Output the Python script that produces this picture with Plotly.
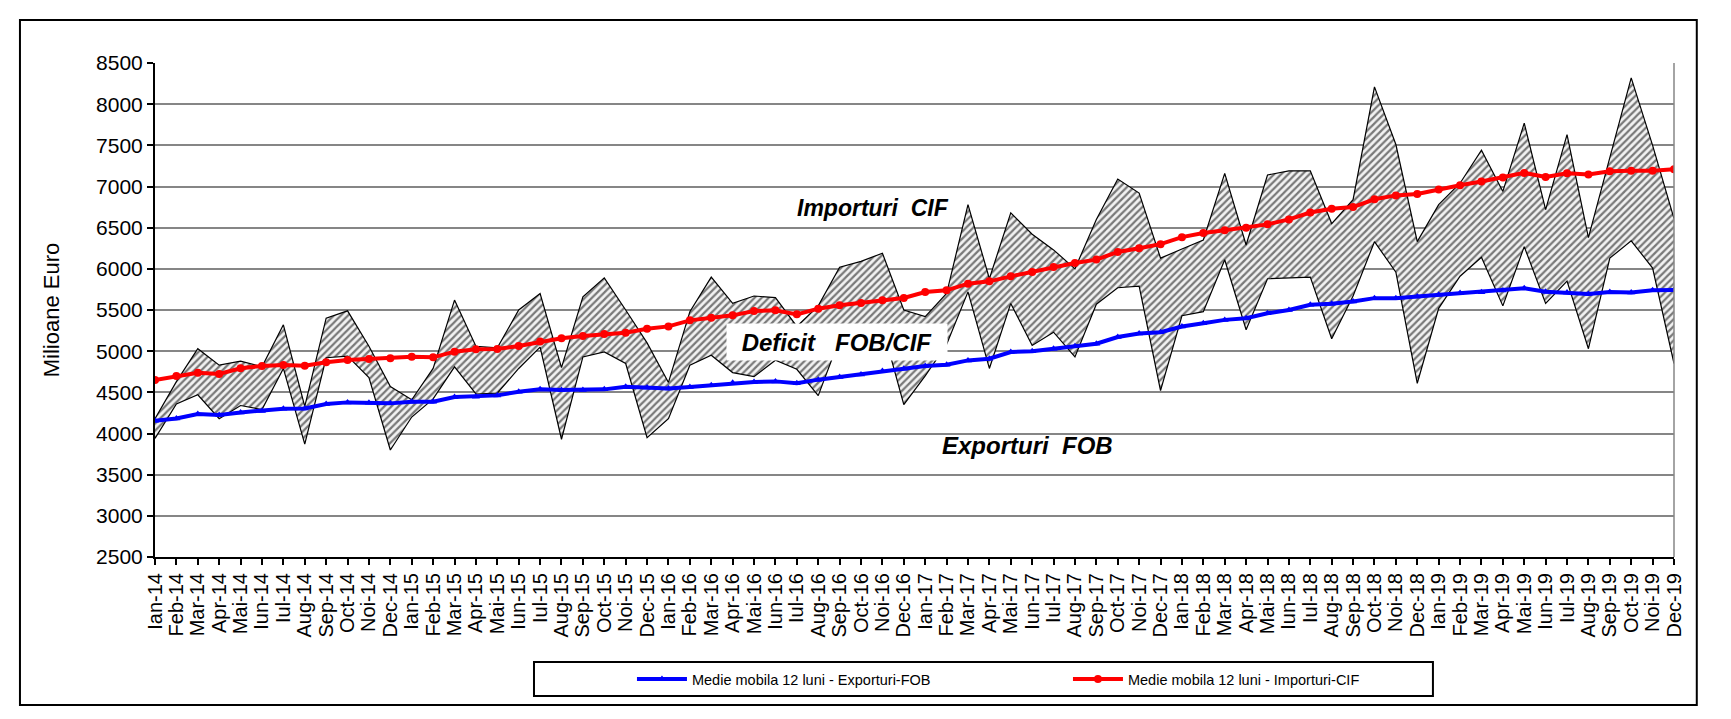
import plotly.graph_objects as go

# luni (etichete axa X)
month_names = ['Ian', 'Feb', 'Mar', 'Apr', 'Mai', 'Iun', 'Iul', 'Aug', 'Sep', 'Oct', 'Noi', 'Dec']
years = ['14', '15', '16', '17', '18', '19']
months = [m + '-' + y for y in years for m in month_names]

# exporturi FOB lunare (mil. euro)
exports_fob = [
    3940, 4360, 4470, 4180, 4340, 4290, 4790, 3870, 4920, 4940, 4680, 3800,
    4200, 4420, 4810, 4480, 4490, 4790, 5050, 3930, 4930, 4990, 4850, 3950,
    4180, 4830, 4950, 4740, 4690, 4890, 4780, 4460, 5150, 5250, 5300, 4350,
    4700, 5080, 5720, 4790, 5580, 5070, 5230, 4930, 5570, 5770, 5790, 4520,
    5430, 5480, 6110, 5260, 5880, 5890, 5900, 5150, 5670, 6330, 5960, 4610,
    5520, 5910, 6140, 5550, 6270, 5580, 5850, 5030, 6130, 6340, 6010, 4850,
]

# importuri CIF lunare (mil. euro)
imports_cif = [
    4180, 4630, 5030, 4830, 4880, 4810, 5320, 4330, 5400, 5490, 5060, 4570,
    4410, 4790, 5620, 5060, 5040, 5500, 5700, 4800, 5660, 5890, 5500, 5100,
    4620, 5480, 5900, 5580, 5670, 5650, 5300, 5550, 6020, 6090, 6190, 5500,
    5420, 5700, 6780, 5880, 6680, 6420, 6230, 6000, 6600, 7090, 6920, 6130,
    6240, 6350, 7160, 6290, 7140, 7190, 7190, 6550, 6840, 8210, 7510, 6330,
    6780, 7040, 7440, 6940, 7770, 6720, 7630, 6380, 7350, 8320, 7500, 6610,
]

# medie mobila 12 luni - exporturi
exports_ma = [
    4155, 4183, 4236, 4224, 4256, 4273, 4301, 4305, 4358, 4378, 4374, 4366,
    4386, 4386, 4443, 4447, 4463, 4508, 4536, 4528, 4528, 4536, 4569, 4560,
    4548, 4565, 4585, 4617, 4625, 4633, 4610, 4654, 4686, 4718, 4759, 4787,
    4820, 4836, 4888, 4909, 4990, 4998, 5030, 5059, 5091, 5172, 5215, 5230,
    5300, 5340, 5380, 5400, 5460, 5500, 5563, 5575, 5603, 5644, 5644, 5664,
    5684, 5705, 5715, 5738, 5764, 5722, 5714, 5694, 5720, 5714, 5740, 5743,
]

# medie mobila 12 luni - importuri
imports_ma = [
    4650, 4698, 4739, 4723, 4792, 4820, 4832, 4824, 4865, 4893, 4905, 4913,
    4933, 4925, 4994, 5023, 5027, 5063, 5116, 5157, 5185, 5209, 5225, 5273,
    5301, 5374, 5407, 5435, 5488, 5496, 5447, 5516, 5557, 5585, 5618, 5646,
    5719, 5739, 5820, 5848, 5909, 5962, 6023, 6071, 6112, 6204, 6250, 6300,
    6385, 6435, 6468, 6500, 6540, 6600, 6684, 6730, 6750, 6845, 6892, 6910,
    6965, 7015, 7060, 7110, 7165, 7115, 7160, 7145, 7185, 7190, 7190, 7210,
]

FONT = 'Arial, Liberation Sans, sans-serif'

fig = go.Figure()

# linia importurilor (marginea de sus a zonei hasurate)
fig.add_trace(go.Scatter(
    x=months, y=imports_cif,
    mode='lines',
    line=dict(color='black', width=1.2),
    showlegend=False, hoverinfo='skip',
))
# exporturi + hasura deficit
fig.add_trace(go.Scatter(
    x=months, y=exports_fob,
    mode='lines',
    line=dict(color='black', width=1.2),
    fill='tonexty',
    fillcolor='white',
    fillpattern=dict(shape='/', size=5, solidity=0.45, fgcolor='black', bgcolor='#f2f2f2'),
    showlegend=False, hoverinfo='skip',
))
fig.add_trace(go.Scatter(
    x=months, y=exports_ma,
    mode='lines+markers',
    name='Medie mobila 12 luni - Exporturi-FOB',
    line=dict(color='#0000ff', width=4),
    marker=dict(symbol='triangle-up', size=7, color='#0000ff'),
))
fig.add_trace(go.Scatter(
    x=months, y=imports_ma,
    mode='lines+markers',
    name='Medie mobila 12 luni - Importuri-CIF',
    line=dict(color='#ff0000', width=4),
    marker=dict(symbol='circle', size=8, color='#ff0000'),
))

label = dict(xref='paper', yref='paper', xanchor='center', yanchor='middle',
             showarrow=False, font=dict(size=23))

fig.update_layout(
    # body-ul paginii are 8px margine, deci figura e putin mai mica decat fereastra
    width=1723, height=703,
    margin=dict(l=147, r=57, t=55, b=154),
    paper_bgcolor='white',
    plot_bgcolor='white',
    font=dict(family=FONT, color='black'),
    legend=dict(
        orientation='h',
        x=0.314, xanchor='left',
        y=-0.247, yanchor='middle',
        bgcolor='rgba(0,0,0,0)', borderwidth=0,
        font=dict(size=14.5, family=FONT),
        itemwidth=50,
        entrywidth=371, entrywidthmode='pixels',
        traceorder='normal',
    ),
    xaxis=dict(
        type='category',
        range=[0, len(months) - 1],
        tickmode='array', tickvals=months, ticktext=months,
        tickangle=-90,
        tickfont=dict(size=20),
        ticks='outside', ticklen=6, tickcolor='black', tickwidth=1.5,
        showgrid=False,
        showline=True, linecolor='black', linewidth=2,
        zeroline=False,
    ),
    yaxis=dict(
        range=[2500, 8500],
        tickvals=list(range(2500, 8501, 500)),
        tickfont=dict(size=21),
        ticks='outside', ticklen=6, tickcolor='black', tickwidth=1.5,
        showgrid=True, gridcolor='#868686', gridwidth=1.5,
        showline=True, linecolor='black', linewidth=2,
        zeroline=False,
        title=dict(text='Milioane Euro', font=dict(size=22), standoff=30),
    ),
    shapes=[
        # chenar exterior
        dict(type='rect', xref='paper', yref='paper',
             x0=-0.0889, x1=1.0150, y0=-0.2996, y1=1.087,
             line=dict(color='black', width=2)),
        # chenar legenda
        dict(type='rect', xref='paper', yref='paper',
             x0=0.2495, x1=0.8413, y0=-0.2814, y1=-0.2126,
             line=dict(color='black', width=2)),
        # marginea dreapta a zonei graficului
        dict(type='line', xref='paper', yref='paper',
             x0=1, x1=1, y0=0, y1=1,
             line=dict(color='#868686', width=1.5)),
    ],
    annotations=[
        dict(label, text='<b><i>Importuri&nbsp; CIF</i></b>', x=0.4727, y=0.7065),
        dict(label, text='<b><i>Deficit&nbsp;&nbsp; FOB/CIF</i></b>', x=0.449, y=0.436,
             font=dict(size=24), bgcolor='white', width=214, height=30, borderpad=3),
        dict(label, text='<b><i>Exporturi&nbsp; FOB</i></b>', x=0.5747, y=0.2267,
             font=dict(size=24)),
    ],
)

fig.write_html("out.html")
